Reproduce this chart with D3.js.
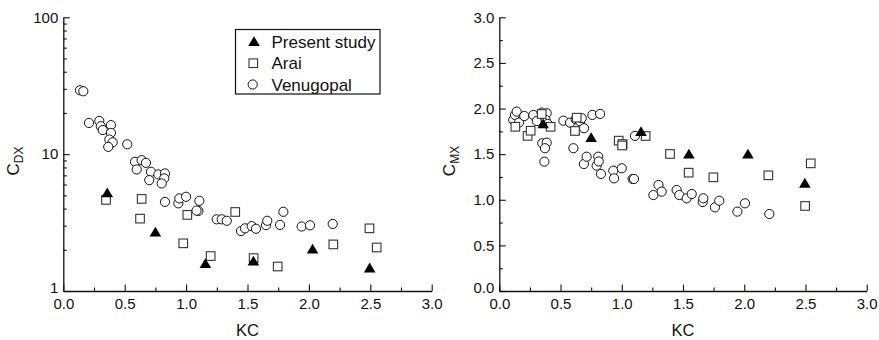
<!DOCTYPE html>
<html>
<head>
<meta charset="utf-8">
<script src="https://cdn.jsdelivr.net/npm/d3@7"></script>
<style>
  html, body { margin: 0; padding: 0; background: #fff; }
  svg { display: block; font-family: "Liberation Sans", Arial, Helvetica, sans-serif; }
</style>
</head>
<body>
<svg id="chart" width="879" height="340"></svg>
<script>
// ---------- DATA ----------
// Left panel: C_DX vs KC (log scale)
const presentKC   = [0.358, 0.75, 1.157, 1.548, 2.03, 2.495];
const presentCDX  = [5.2, 2.69, 1.58, 1.65, 2.02, 1.47];
const presentCMX  = [1.83, 1.68, 1.745, 1.50, 1.50, 1.18];

const araiKC_DX  = [0.348, 0.625, 0.638, 0.977, 1.010, 1.20, 1.40, 1.55, 1.746, 2.199, 2.493, 2.552];
const araiCDX    = [4.63, 3.38, 4.71, 2.23, 3.60, 1.80, 3.78, 1.74, 1.51, 2.19, 2.87, 2.08];

const venuKC_DX  = [0.136, 0.163, 0.209, 0.293, 0.305, 0.321, 0.388, 0.388, 0.375, 0.402, 0.366, 0.521,
                    0.584, 0.598, 0.638, 0.673, 0.714, 0.700, 0.774, 0.828, 0.822, 0.801, 0.828, 0.937,
                    0.945, 1.0, 1.108, 1.10, 1.085, 1.249, 1.290, 1.331, 1.447, 1.48, 1.534, 1.569,
                    1.651, 1.661, 1.765, 1.792, 1.941, 2.009, 2.194];
const venuCDX    = [29.3, 28.8, 16.9, 17.5, 16.0, 15.0, 16.3, 14.3, 12.8, 12.2, 11.3, 11.8,
                    8.79, 7.73, 9.04, 8.64, 7.43, 6.46, 7.11, 7.23, 6.65, 6.11, 4.48, 4.37,
                    4.75, 4.88, 4.56, 3.85, 3.87, 3.34, 3.34, 3.26, 2.74, 2.87, 2.98, 2.85,
                    3.03, 3.26, 3.04, 3.79, 2.96, 3.02, 3.09];

// Right panel: C_MX vs KC (linear)
const araiKC_MX  = [0.131, 0.231, 0.256, 0.346, 0.419, 0.618, 0.632, 0.975, 1.007, 1.003, 1.195, 1.394,
                    1.546, 1.748, 2.197, 2.497, 2.543];
const araiCMX    = [1.80, 1.70, 1.757, 1.94, 1.80, 1.754, 1.90, 1.648, 1.611, 1.595, 1.699, 1.502,
                    1.297, 1.246, 1.268, 0.932, 1.399];

const venuKC_MX  = [0.114, 0.128, 0.142, 0.161, 0.204, 0.278, 0.306, 0.346, 0.387, 0.379, 0.395, 0.351,
                    0.387, 0.373, 0.368, 0.523, 0.578, 0.605, 0.624, 0.659, 0.673, 0.692, 0.760, 0.823,
                    0.691, 0.713, 0.795, 0.808, 0.812, 0.830, 0.931, 0.937, 1.0, 1.089, 1.100, 1.108,
                    1.258, 1.300, 1.326, 1.448, 1.470, 1.530, 1.571, 1.661, 1.666, 1.761, 1.796, 1.944,
                    2.006, 2.205];
const venuCMX    = [1.875, 1.93, 1.966, 1.846, 1.918, 1.93, 1.863, 1.955, 1.948, 1.875, 1.831, 1.619,
                    1.626, 1.565, 1.418, 1.867, 1.845, 1.565, 1.883, 1.860, 1.894, 1.784, 1.93, 1.941,
                    1.392, 1.472, 1.374, 1.472, 1.42, 1.283, 1.319, 1.235, 1.345, 1.228, 1.228, 1.70,
                    1.052, 1.162, 1.089, 1.107, 1.052, 1.016, 1.063, 0.975, 1.016, 0.917, 0.99, 0.87,
                    0.961, 0.844];

const xTicks      = [0, 0.5, 1.0, 1.5, 2.0, 2.5, 3.0];
const xMinorTicks = [0.25, 0.75, 1.25, 1.75, 2.25, 2.75];
const yLogTicks   = [1, 10, 100];
const yLogMinor   = [2, 3, 4, 5, 6, 7, 8, 9, 20, 30, 40, 50, 60, 70, 80, 90];
const yLinTicks   = [0, 0.5, 1.0, 1.5, 2.0, 2.5, 3.0];
const yLinMinor   = [0.25, 0.75, 1.25, 1.75, 2.25, 2.75];
const legendLabels = ["Present study", "Arai", "Venugopal"];

// ---------- DRAW ----------
const svg = d3.select("#chart");
const plotTop = 17.3, plotBottom = 291;

function zip(a, b) { return a.map((v, i) => [v, b[i]]); }

function drawPanel(opts) {
  const g = svg.append("g");
  const x = d3.scaleLinear().domain([0, 3]).range([opts.x0, opts.x1]);
  const y = opts.y;

  // minor ticks
  g.append("g").attr("transform", `translate(0,${plotBottom})`)
    .call(d3.axisBottom(x).tickValues(xMinorTicks).tickSizeInner(-3.5).tickSizeOuter(0).tickFormat(""))
    .call(s => s.select(".domain").remove());
  g.append("g").attr("transform", `translate(${opts.x0},0)`)
    .call(d3.axisLeft(y).tickValues(opts.yMinor).tickSizeInner(-3.5).tickSizeOuter(0).tickFormat(""))
    .call(s => s.select(".domain").remove());

  // major axes
  const xa = g.append("g").attr("transform", `translate(0,${plotBottom})`)
    .call(d3.axisBottom(x).tickValues(xTicks).tickSizeInner(-6.5).tickSizeOuter(0).tickPadding(7)
      .tickFormat(d3.format(".1f")));
  const ya = g.append("g").attr("transform", `translate(${opts.x0},0)`)
    .call(d3.axisLeft(y).tickValues(opts.yTicks).tickSizeInner(-6.5).tickSizeOuter(0).tickPadding(5)
      .tickFormat(opts.yFormat));
  [xa, ya].forEach(a => {
    a.selectAll("text").attr("font-size", 15).attr("fill", "#111")
      .attr("font-family", "'Liberation Sans', Arial, sans-serif");
  });
  // lift the bottom y label a little so it sits just above the x labels
  ya.selectAll(".tick").filter(d => d === opts.yTicks[0]).select("text").attr("dy", "0.1em");
  g.selectAll(".domain").attr("stroke", "#111").attr("stroke-width", 1.3);
  g.selectAll(".tick line").attr("stroke", "#111").attr("stroke-width", 1.1);

  // axis titles
  g.append("text").attr("x", (opts.x0 + opts.x1) / 2).attr("y", 335.5)
    .attr("text-anchor", "middle").attr("font-size", 16.5).attr("fill", "#111").text("KC");
  const yt = g.append("text")
    .attr("transform", `translate(${opts.x0 - 44},161) rotate(-90)`)
    .attr("text-anchor", "middle").attr("font-size", 17).attr("fill", "#111");
  yt.append("tspan").text("C");
  yt.append("tspan").attr("font-size", 12).attr("dy", 4).text(opts.sub);

  // markers
  const pts = g.append("g");
  pts.selectAll("circle.v").data(opts.venu).join("circle")
    .attr("cx", d => x(d[0])).attr("cy", d => y(d[1])).attr("r", 4.6)
    .attr("fill", "#fff").attr("stroke", "#111").attr("stroke-width", 1);
  pts.selectAll("rect.a").data(opts.arai).join("rect")
    .attr("x", d => x(d[0]) - 4.3).attr("y", d => y(d[1]) - 4.3)
    .attr("width", 8.6).attr("height", 8.6)
    .attr("fill", "#fff").attr("stroke", "#333").attr("stroke-width", 1.1);
  pts.selectAll("path.p").data(opts.present).join("path")
    .attr("d", "M0,-5.5L5.8,4.3L-5.8,4.3Z")
    .attr("transform", d => `translate(${x(d[0])},${y(d[1])})`)
    .attr("fill", "#000");
  return g;
}

drawPanel({
  x0: 63.3, x1: 431.7,
  y: d3.scaleLog().domain([1, 100]).range([plotBottom, plotTop]),
  yTicks: yLogTicks, yMinor: yLogMinor, yFormat: d3.format("d"),
  sub: "DX",
  venu: zip(venuKC_DX, venuCDX),
  arai: zip(araiKC_DX, araiCDX),
  present: zip(presentKC, presentCDX)
});

drawPanel({
  x0: 499.3, x1: 866.7,
  y: d3.scaleLinear().domain([0, 3]).range([plotBottom, plotTop]),
  yTicks: yLinTicks, yMinor: yLinMinor, yFormat: d3.format(".1f"),
  sub: "MX",
  venu: zip(venuKC_MX, venuCMX),
  arai: zip(araiKC_MX, araiCMX),
  present: zip(presentKC, presentCMX)
});

// legend
const lg = svg.append("g");
lg.append("rect").attr("x", 235.5).attr("y", 29.5).attr("width", 144.5).attr("height", 64.5)
  .attr("fill", "#fff").attr("stroke", "#111").attr("stroke-width", 1.2);
const ly = [41.7, 63.2, 84.5];
legendLabels.forEach((t, i) => {
  lg.append("text").attr("x", 271.5).attr("y", ly[i] + 6).attr("font-size", 17)
    .attr("fill", "#111").text(t);
});
lg.append("path").attr("d", "M0,-5.5L5.8,4.3L-5.8,4.3Z")
  .attr("transform", `translate(254,${ly[0]})`).attr("fill", "#000");
lg.append("rect").attr("x", 253.3 - 4.3).attr("y", ly[1] - 4.3).attr("width", 8.6).attr("height", 8.6)
  .attr("fill", "#fff").attr("stroke", "#333").attr("stroke-width", 1.1);
lg.append("circle").attr("cx", 252.7).attr("cy", ly[2]).attr("r", 4.6)
  .attr("fill", "#fff").attr("stroke", "#111").attr("stroke-width", 1);
</script>
</body>
</html>
